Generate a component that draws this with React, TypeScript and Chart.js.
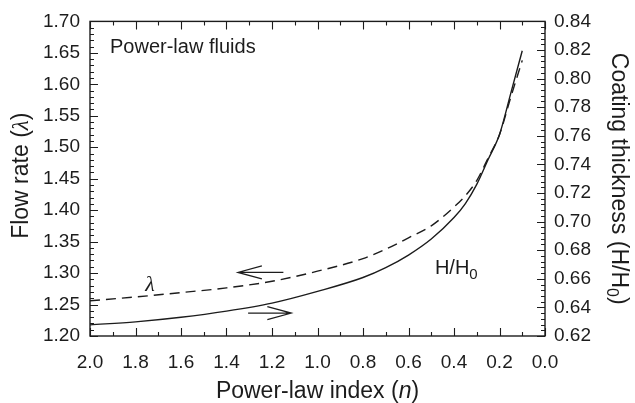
import React, { useEffect, useRef } from 'react';
import { Chart, registerables } from 'chart.js';

Chart.register(...registerables);

// ---- data ----
const powerLawIndex = [2.0, 1.8, 1.6, 1.4, 1.2, 1.0, 0.8, 0.7, 0.6, 0.5, 0.4, 0.35, 0.3, 0.25, 0.2, 0.15, 0.1];
const flowRate = [1.256, 1.262, 1.269, 1.2765, 1.287, 1.303, 1.323, 1.338, 1.356, 1.375, 1.405, 1.423, 1.447, 1.483, 1.520, 1.580, 1.638];
const coatingThickness = [0.6278, 0.6299, 0.6331, 0.6374, 0.6430, 0.6512, 0.6609, 0.6678, 0.6766, 0.6878, 0.7028, 0.7126, 0.7260, 0.7434, 0.7609, 0.7900, 0.8195];

const xRange = [0, 2.0];
const xMajorStep = 0.2;
const xMinorStep = 0.1;
const yLeftRange = [1.2, 1.7];
const yLeftMajorStep = 0.05;
const yLeftMinorStep = 0.01;
const yRightRange = [0.62, 0.84];
const yRightMajorStep = 0.02;
const yRightMinorStep = 0.004;

const xTitle = ['Power-law index (', 'n', ')'];
const yLeftTitle = ['Flow rate (', 'λ', ')'];
const yRightTitle = ['Coating thickness (H/H', '0', ')'];
const noteText = 'Power-law fluids';
const noteAt = [1.912, 1.656]; // n, flow rate
const lambdaLabel = 'λ';
const lambdaLabelAt = [1.736, 1.283]; // n, flow rate
const thicknessLabel = ['H/H', '0'];
const thicknessLabelAt = [0.484, 0.6676]; // n, coating thickness
const flowArrow = { from: 1.15, to: 1.35, value: 1.301 }; // on flow-rate axis
const thicknessArrow = { from: 1.305, to: 1.115, value: 0.636 }; // on thickness axis

const SANS = '"Liberation Sans", Arial, Helvetica, sans-serif';
const SERIF = '"Liberation Serif", "DejaVu Serif", "Times New Roman", serif';
const INK = '#1c1c1c';

type Run = { text: string; font: string; dy?: number };

function drawRuns(ctx: CanvasRenderingContext2D, runs: Run[], cx: number, cy: number, rot: number, align: 'center' | 'left' = 'center') {
  ctx.save();
  ctx.translate(cx, cy);
  ctx.rotate(rot);
  let total = 0;
  const widths = runs.map((r) => {
    ctx.font = r.font;
    const w = ctx.measureText(r.text).width;
    total += w;
    return w;
  });
  let x = align === 'center' ? -total / 2 : 0;
  ctx.fillStyle = INK;
  ctx.textBaseline = 'alphabetic';
  ctx.textAlign = 'left';
  runs.forEach((r, i) => {
    ctx.font = r.font;
    ctx.fillText(r.text, x, r.dy ?? 0);
    x += widths[i];
  });
  ctx.restore();
}

const framePlugin = {
  id: 'frameAndNotes',
  afterDatasetsDraw(chart: any) {
    const ctx: CanvasRenderingContext2D = chart.ctx;
    const ca = chart.chartArea;
    const xs = chart.scales.x;
    const yl = chart.scales.y;
    const yr = chart.scales.y2;
    ctx.save();
    ctx.strokeStyle = INK;
    ctx.lineWidth = 1.4;
    ctx.strokeRect(ca.left, ca.top, ca.right - ca.left, ca.bottom - ca.top);

    ctx.lineWidth = 1.1;
    ctx.beginPath();
    // x ticks (bottom + top), inward
    const nx = Math.round((xRange[1] - xRange[0]) / xMinorStep);
    const xEvery = Math.round(xMajorStep / xMinorStep);
    for (let i = 0; i <= nx; i++) {
      const v = xRange[0] + i * xMinorStep;
      const px = Math.round(xs.getPixelForValue(v)) + 0.5;
      const len = i % xEvery === 0 ? 8 : 4;
      ctx.moveTo(px, ca.bottom);
      ctx.lineTo(px, ca.bottom - len);
      ctx.moveTo(px, ca.top);
      ctx.lineTo(px, ca.top + len);
    }
    // left y ticks
    const nl = Math.round((yLeftRange[1] - yLeftRange[0]) / yLeftMinorStep);
    const lEvery = Math.round(yLeftMajorStep / yLeftMinorStep);
    for (let i = 0; i <= nl; i++) {
      const v = yLeftRange[0] + i * yLeftMinorStep;
      const py = Math.round(yl.getPixelForValue(v)) + 0.5;
      const len = i % lEvery === 0 ? 8 : 4;
      ctx.moveTo(ca.left, py);
      ctx.lineTo(ca.left + len, py);
    }
    // right y ticks
    const nr = Math.round((yRightRange[1] - yRightRange[0]) / yRightMinorStep);
    const rEvery = Math.round(yRightMajorStep / yRightMinorStep);
    for (let i = 0; i <= nr; i++) {
      const v = yRightRange[0] + i * yRightMinorStep;
      const py = Math.round(yr.getPixelForValue(v)) + 0.5;
      const len = i % rEvery === 0 ? 8 : 4;
      ctx.moveTo(ca.right, py);
      ctx.lineTo(ca.right - len, py);
    }
    ctx.stroke();

    // arrows
    const arrow = (x1: number, x2: number, y: number) => {
      ctx.beginPath();
      ctx.lineWidth = 1.2;
      ctx.moveTo(x1, y);
      ctx.lineTo(x2, y);
      const dir = x2 > x1 ? -1 : 1;
      ctx.moveTo(x2 + dir * 24, y - 6.5);
      ctx.lineTo(x2, y);
      ctx.lineTo(x2 + dir * 24, y + 6.5);
      ctx.stroke();
    };
    arrow(xs.getPixelForValue(flowArrow.from), xs.getPixelForValue(flowArrow.to), yl.getPixelForValue(flowArrow.value));
    arrow(xs.getPixelForValue(thicknessArrow.from), xs.getPixelForValue(thicknessArrow.to), yr.getPixelForValue(thicknessArrow.value));

    // annotations
    drawRuns(ctx, [{ text: noteText, font: `20px ${SANS}` }], xs.getPixelForValue(noteAt[0]), yl.getPixelForValue(noteAt[1]) + 4, 0, 'left');
    drawRuns(ctx, [{ text: lambdaLabel, font: `italic 22px ${SERIF}` }], xs.getPixelForValue(lambdaLabelAt[0]), yl.getPixelForValue(lambdaLabelAt[1]) + 7, 0);
    drawRuns(
      ctx,
      [
        { text: thicknessLabel[0], font: `20px ${SANS}` },
        { text: thicknessLabel[1], font: `15px ${SANS}`, dy: 5 },
      ],
      xs.getPixelForValue(thicknessLabelAt[0]),
      yr.getPixelForValue(thicknessLabelAt[1]) + 6,
      0,
      'left'
    );

    // axis titles
    const tf = `23px ${SANS}`;
    drawRuns(
      ctx,
      [
        { text: xTitle[0], font: tf },
        { text: xTitle[1], font: `italic ${tf}` },
        { text: xTitle[2], font: tf },
      ],
      (ca.left + ca.right) / 2,
      xs.bottom - 5,
      0
    );
    drawRuns(
      ctx,
      [
        { text: yLeftTitle[0], font: tf },
        { text: yLeftTitle[1], font: `italic 23px ${SERIF}` },
        { text: yLeftTitle[2], font: tf },
      ],
      yl.left + 28,
      (ca.top + ca.bottom) / 2 - 3,
      -Math.PI / 2
    );
    drawRuns(
      ctx,
      [
        { text: yRightTitle[0], font: tf },
        { text: yRightTitle[1], font: `16px ${SANS}`, dy: 5 },
        { text: yRightTitle[2], font: tf },
      ],
      yr.right - 23,
      (ca.top + ca.bottom) / 2,
      Math.PI / 2
    );
    ctx.restore();
  },
};

export default function App() {
  const ref = useRef<HTMLCanvasElement | null>(null);
  useEffect(() => {
    document.body.style.margin = '0';
    const canvas = ref.current;
    if (!canvas) return;
    const tickFont = { family: SANS, size: 19 };
    const chart = new Chart(canvas, {
      type: 'line',
      data: {
        datasets: [
          {
            label: 'λ',
            data: powerLawIndex.map((n, i) => ({ x: n, y: flowRate[i] })),
            yAxisID: 'y',
            borderColor: INK,
            borderWidth: 1.4,
            borderDash: [10, 6],
            pointRadius: 0,
            fill: false,
            cubicInterpolationMode: 'monotone',
          },
          {
            label: 'H/H0',
            data: powerLawIndex.map((n, i) => ({ x: n, y: coatingThickness[i] })),
            yAxisID: 'y2',
            borderColor: INK,
            borderWidth: 1.4,
            pointRadius: 0,
            fill: false,
            cubicInterpolationMode: 'monotone',
          },
        ],
      },
      options: {
        animation: false,
        responsive: false,
        maintainAspectRatio: false,
        devicePixelRatio: 1,
        layout: { padding: { top: 17, left: 0, right: 0, bottom: 0 } },
        plugins: { legend: { display: false }, tooltip: { enabled: false } },
        scales: {
          x: {
            type: 'linear',
            position: 'bottom',
            reverse: true,
            min: xRange[0],
            max: xRange[1],
            ticks: {
              stepSize: xMajorStep,
              callback: (v: any) => Number(v).toFixed(1),
              font: tickFont,
              color: INK,
              padding: 15,
              maxRotation: 0,
              autoSkip: false,
            },
            grid: { display: false, drawTicks: false },
            border: { display: false },
            afterFit: (s: any) => {
              s.height = 67;
            },
          },
          y: {
            position: 'left',
            min: yLeftRange[0],
            max: yLeftRange[1],
            ticks: {
              stepSize: yLeftMajorStep,
              callback: (v: any) => Number(v).toFixed(2),
              font: tickFont,
              color: INK,
              padding: 10,
              autoSkip: false,
            },
            grid: { display: false, drawTicks: false },
            border: { display: false },
            afterFit: (s: any) => {
              s.width = 90;
            },
          },
          y2: {
            position: 'right',
            min: yRightRange[0],
            max: yRightRange[1],
            ticks: {
              stepSize: yRightMajorStep,
              callback: (v: any) => Number(v).toFixed(2),
              font: tickFont,
              color: INK,
              padding: 9,
              autoSkip: false,
            },
            grid: { display: false, drawTicks: false },
            border: { display: false },
            afterFit: (s: any) => {
              s.width = 90;
            },
          },
        },
      },
      plugins: [framePlugin],
    } as any);
    return () => chart.destroy();
  }, []);
  return <canvas ref={ref} width={635} height={403} style={{ display: 'block', width: 635, height: 403 }} />;
}
